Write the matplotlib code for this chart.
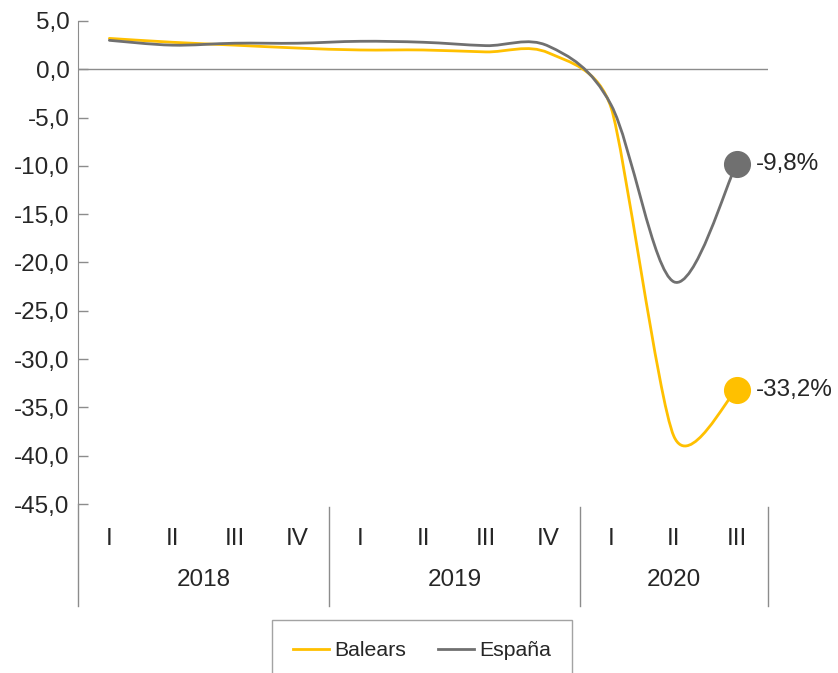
import math
import matplotlib.pyplot as plt
import matplotlib.transforms as mtransforms
from matplotlib.path import Path
from matplotlib.patches import PathPatch
from matplotlib.lines import Line2D

plt.rcParams['font.family'] = ['Liberation Sans', 'DejaVu Sans']

quarters = ['I', 'II', 'III', 'IV', 'I', 'II', 'III', 'IV', 'I', 'II', 'III']
years = ['2018', '2019', '2020']
year_sizes = [4, 4, 3]
balears = [3.2, 2.8, 2.5, 2.2, 2.0, 2.0, 1.8, 1.7, -4.0, -38.0, -33.2]
espana = [3.0, 2.5, 2.7, 2.7, 2.9, 2.8, 2.45, 2.4, -3.7, -22.0, -9.8]
yellow = '#FFC000'
grey = '#707070'
text_col = '#262626'
axis_col = '#8C8C8C'
fs = 17.5

# pixel size of one x step / one y unit, used to shape the smoothing like Excel
SX, SY = 690 / 11, 483 / 50


def smooth_path(ys):
    # Excel-style smoothed line: Bezier through every point, control arms
    # limited to half of the shorter neighbouring segment
    pts = [(float(i), float(v)) for i, v in enumerate(ys)]
    n = len(pts)

    def dist(a, b):
        return math.hypot((a[0] - b[0]) * SX, (a[1] - b[1]) * SY)

    arms = []
    for i in range(n):
        p0 = pts[max(i - 1, 0)]
        p2 = pts[min(i + 1, n - 1)]
        d02 = dist(p0, p2)
        f = 1 / 6
        if 0 < i < n - 1:
            lim = min(dist(p0, pts[i]), dist(pts[i], p2)) / 2
            if d02 * f > lim:
                f = lim / d02
        arms.append(((p2[0] - p0[0]) * f, (p2[1] - p0[1]) * f))

    verts = [pts[0]]
    codes = [Path.MOVETO]
    for i in range(n - 1):
        c1 = (pts[i][0] + arms[i][0], pts[i][1] + arms[i][1])
        c2 = (pts[i + 1][0] - arms[i + 1][0], pts[i + 1][1] - arms[i + 1][1])
        verts += [c1, c2, pts[i + 1]]
        codes += [Path.CURVE4] * 3
    return Path(verts, codes)


fig = plt.figure(figsize=(8.38, 6.73), dpi=100)
ax = fig.add_axes([78 / 838, 1 - 504 / 673, 690 / 838, 483 / 673])

ax.axhline(0, color=axis_col, lw=1, zorder=1)
for ys, col in [(balears, yellow), (espana, grey)]:
    ax.add_patch(PathPatch(smooth_path(ys), facecolor='none', edgecolor=col,
                           lw=2, zorder=3, capstyle='round'))
    ax.plot(len(ys) - 1, ys[-1], 'o', ms=18.5, color=col, zorder=4)
    lab = f"{ys[-1]:.1f}".replace('.', ',') + '%'
    ax.annotate(lab, (len(ys) - 1, ys[-1]), xytext=(14, 0), textcoords='offset points',
                ha='left', va='center', fontsize=fs, color=text_col)

ax.set_xlim(-0.5, len(quarters) - 0.5)
ax.set_ylim(-45, 5)
ax.set_yticks(range(-45, 6, 5))
ax.set_yticklabels([f"{v:.1f}".replace('.', ',') for v in range(-45, 6, 5)])
ax.tick_params(axis='y', direction='in', length=7, width=1, color=axis_col,
               labelsize=fs, labelcolor=text_col, pad=6)
ax.set_xticks(range(len(quarters)))
ax.set_xticklabels(quarters)
ax.tick_params(axis='x', length=0, labelsize=fs, labelcolor=text_col, pad=17)
for s in ['top', 'right', 'bottom']:
    ax.spines[s].set_visible(False)
ax.spines['left'].set_color(axis_col)

# category groups under the axis
trans = mtransforms.blended_transform_factory(ax.transData, ax.transAxes)
ax.plot([-0.5, -0.5], [0, -0.211], transform=trans, color=axis_col, lw=1, clip_on=False)
start = -0.5
for yr, size in zip(years, year_sizes):
    end = start + size
    ax.plot([end, end], [-0.006, -0.211], transform=trans, color=axis_col, lw=1, clip_on=False)
    ax.text((start + end) / 2, -0.157, yr, transform=trans, ha='center', va='center',
            fontsize=fs, color=text_col)
    start = end

handles = [Line2D([], [], color=yellow, lw=2), Line2D([], [], color=grey, lw=2)]
leg = fig.legend(handles, ['Balears', 'España'], loc='upper center', ncol=2,
                 bbox_to_anchor=(422 / 838, 1 - 620 / 673), borderaxespad=0,
                 fontsize=15.3, frameon=True, fancybox=False, edgecolor=axis_col,
                 handlelength=1.7, handletextpad=0.24, columnspacing=1.5,
                 borderpad=1.0, labelcolor=text_col)
leg.get_frame().set_linewidth(1)

fig.savefig('out.png', dpi=100)
